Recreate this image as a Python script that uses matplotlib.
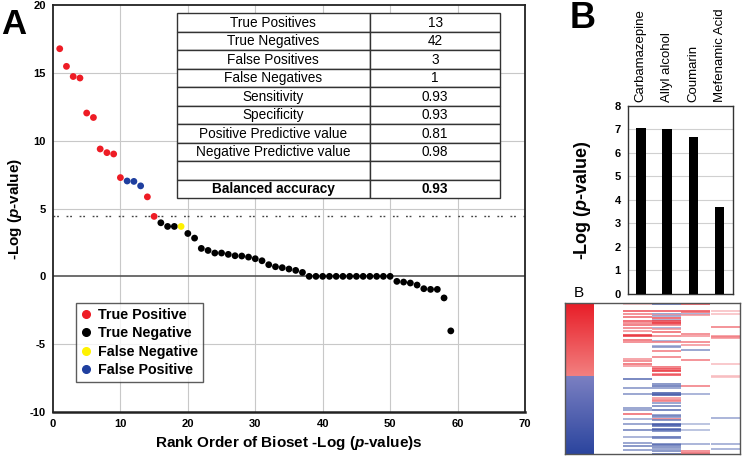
import numpy as np
import matplotlib
matplotlib.use("Agg")
import matplotlib.pyplot as plt
from matplotlib.lines import Line2D

plt.rcParams["font.family"] = ["Liberation Sans", "DejaVu Sans"]
plt.rcParams["mathtext.fontset"] = "custom"
plt.rcParams["mathtext.it"] = "Liberation Sans:bold:italic"
plt.rcParams["mathtext.rm"] = "Liberation Sans:bold"
plt.rcParams["axes.unicode_minus"] = False

# ---- panel A data: ranked bioset -log(p) values and their call ----
scores = [16.78, 15.48, 14.73, 14.62, 12.04, 11.71, 9.39, 9.12, 9.02, 7.28,
          7.03, 7.00, 6.67, 5.86, 4.42, 3.95, 3.68, 3.68, 3.68, 3.16,
          2.82, 2.06, 1.91, 1.72, 1.72, 1.62, 1.52, 1.50, 1.42, 1.30,
          1.15, 0.86, 0.71, 0.64, 0.54, 0.44, 0.29,
          0, 0, 0, 0, 0, 0, 0, 0, 0, 0, 0, 0, 0,
          -0.37, -0.42, -0.49, -0.64, -0.91, -0.96, -0.96, -1.59, -4.02]
calls = (["TP"] * 10 + ["FP"] * 3 + ["TP"] * 2 + ["TN"] * 3 + ["FN"]
         + ["TN"] * 40)
threshold = 4.43

table_rows = ["True Positives", "True Negatives", "False Positives", "False Negatives",
              "Sensitivity", "Specificity", "Positive Predictive value",
              "Negative Predictive value", "", "Balanced accuracy"]
table_vals = ["13", "42", "3", "1", "0.93", "0.93", "0.81", "0.98", "", "0.93"]

# ---- panel B data ----
compounds = ["Carbamazepine", "Allyl alcohol", "Coumarin", "Mefenamic Acid"]
compound_scores = [7.05, 7.0, 6.7, 3.7]

# heatmap: (row, signed intensity) per compound column; + red, - blue
hm_col1 = [(0, 0.3), (7, 0.8), (10, 0.6), (13.5, 0.7), (17, 0.8), (19, 0.6), (21.5, 0.7),
           (24, 0.6), (27.5, 0.5), (31, 0.9), (32, 0.9), (36.5, 0.7), (38.5, 0.6),
           (55, 0.5), (57.5, 0.6), (60, 0.7), (62.5, 0.5), (75, -0.8), (83.5, -0.6),
           (89.5, -0.6), (103.5, -0.6), (106, -0.6), (109.5, 0.7), (114.5, -0.5),
           (120, -0.6), (126, -0.7), (133, -0.5), (139, -0.6), (142, -0.7), (146, -0.6)]
hm_col2 = [(0, -0.8), (7, 0.8), (10, -0.6), (11, 0.5), (12, -0.5), (14, 0.8), (15, 0.6),
           (16, -0.4), (17, 0.9), (18, 0.7), (19, 0.9), (20, 0.8), (21, 0.6), (24, -0.5),
           (25, 0.5), (28, 0.7), (32, 0.6), (37, -0.5), (38.5, 0.6), (42, -0.5),
           (43.5, -0.6), (47, 0.6), (53, 0.6), (63, 0.7), (64, 0.5), (65, 0.8), (66, 0.6),
           (67, 0.9), (70, 0.6), (71.5, 0.8), (80, -0.7), (81.5, -0.8), (84, -0.6),
           (89, -0.9), (90, -0.8), (91, -0.9), (93.5, 0.5), (94.5, 0.4), (95.5, 0.5),
           (96.5, 0.6), (99, -0.6), (101.5, -0.7), (105.5, -0.8), (111, -0.6), (112, -0.7),
           (113, -0.6), (114.5, 0.6), (116, -0.7), (120, -0.9), (121, -0.9), (122, -0.8),
           (125, -0.8), (126, -0.9), (127, -0.7), (133, -0.8), (134, -0.7), (139.5, -0.7),
           (141, -0.8), (142.5, -0.7), (145, -0.6), (147, -0.7), (149, -0.8)]
hm_col3 = [(0, 0.8), (7, 0.8), (8, 0.7), (10, -0.5), (11, 0.5), (30, 0.6), (32, 0.5),
           (38.5, 0.6), (41, 0.5), (46, -0.6), (56, 0.6), (82, 0.6), (89.5, -0.5),
           (120, -0.4), (126, -0.4), (139.5, -0.5), (147, 0.6), (148, 0.7), (149, 0.6)]
hm_col4 = [(7, 0.3), (10, 0.3), (23, 0.6), (32, 0.5), (33, 0.6), (34, 0.5), (60, 0.3),
           (72, 0.3), (73, 0.3), (113.5, -0.5), (139.5, -0.5), (145, -0.5)]
hm_rows = 150
hm_split = 73  # rows above: up-regulated (red), below: down (blue)

COLORS = {"TP": "#ee1c25", "TN": "#000000", "FN": "#fff200", "FP": "#1f3f9f"}
RED = np.array([0.91, 0.11, 0.15])
BLUE = np.array([0.17, 0.27, 0.62])

fig = plt.figure(figsize=(7.44, 4.58), dpi=100)

# ------------------------------------------------------------ Panel A ----
ax = fig.add_axes([0.0712, 0.1004, 0.6344, 0.8886])
ranks = np.arange(1, len(scores) + 1)
ax.scatter(ranks, scores, s=24, c=[COLORS[c] for c in calls], zorder=3, linewidths=0)
ax.set_xlim(0, 70)
ax.set_ylim(-10, 20)
ax.set_xticks(range(0, 71, 10))
ax.set_yticks(range(-10, 21, 5))
for v in range(10, 70, 10):
    ax.axvline(v, color="#c8c8c8", lw=0.8, zorder=0)
for v in (-5, 5, 10, 15):
    ax.axhline(v, color="#c8c8c8", lw=0.8, zorder=0)
ax.axhline(0, color="#555555", lw=1.2, zorder=1)
ax.axhline(threshold, color="#444444", lw=1.0, dashes=(1.3, 1.3, 1.3, 5.5), zorder=1)
ax.tick_params(length=0, labelsize=8, pad=5)
for lab in ax.get_xticklabels() + ax.get_yticklabels():
    lab.set_fontweight("bold")
for s in ax.spines.values():
    s.set_color("#222222")
    s.set_linewidth(1.3)
ax.spines["bottom"].set_linewidth(1.8)
ax.set_xlabel("Rank Order of Bioset -Log ($p$-value)s", fontsize=11, fontweight="bold")
ax.xaxis.set_label_coords(0.5, -0.055)
ax.set_ylabel("-Log ($p$-value)", fontsize=11, fontweight="bold")
ax.yaxis.set_label_coords(-0.062, 0.5)

tbl = ax.table(cellText=[[r, v] for r, v in zip(table_rows, table_vals)],
               cellLoc="center", colWidths=[0.597, 0.403],
               bbox=[0.262, 0.525, 0.686, 0.4545])
tbl.auto_set_font_size(False)
tbl.set_fontsize(9.8)
for (r, c), cell in tbl.get_celld().items():
    cell.set_edgecolor("#333333")
    cell.set_linewidth(1.0)
    cell.set_facecolor("white")
    cell.PAD = 0.02
    if r == len(table_rows) - 1:
        cell.get_text().set_fontweight("bold")
tbl.set_zorder(4)

handles = [Line2D([], [], marker="o", ls="", color=COLORS[k], ms=5.5) for k in ("TP", "TN", "FN", "FP")]
leg = ax.legend(handles, ["True Positive", "True Negative", "False Negative", "False Positive"],
                loc="upper left", bbox_to_anchor=(0.048, 0.268), frameon=True, fancybox=False,
                prop={"weight": "bold", "size": 10.3}, handlelength=0.7, handletextpad=0.5,
                labelspacing=0.3, borderpad=0.35, borderaxespad=0)
leg.get_frame().set_edgecolor("#333333")
leg.get_frame().set_linewidth(1.0)
leg.set_zorder(5)

fig.text(0.002, 0.983, "A", fontsize=25, fontweight="bold", va="top", ha="left")

# ------------------------------------------------------------ Panel B ----
axb = fig.add_axes([0.8437, 0.3581, 0.1411, 0.4105])
xb = np.arange(len(compounds))
axb.bar(xb, compound_scores, width=0.36, color="black", zorder=3)
axb.set_xlim(-0.5, len(compounds) - 0.5)
axb.set_ylim(0, 8)
axb.set_yticks(range(0, 9))
axb.yaxis.grid(True, color="#d0d0d0", lw=0.8, zorder=0)
axb.set_xticks(xb)
axb.set_xticklabels(compounds, rotation=90, fontsize=9.5)
axb.tick_params(axis="x", top=True, labeltop=True, bottom=False, labelbottom=False, length=0, pad=3)
axb.tick_params(axis="y", length=0, labelsize=8, pad=5)
for lab in axb.get_yticklabels():
    lab.set_fontweight("bold")
for s in axb.spines.values():
    s.set_color("#333333")
    s.set_linewidth(1.0)
axb.set_ylabel("-Log ($p$-value)", fontsize=13, fontweight="bold")
axb.yaxis.set_label_coords(-0.33, 0.5)

fig.text(0.766, 0.997, "B", fontsize=26, fontweight="bold", va="top", ha="left")
fig.text(0.771, 0.361, "B", fontsize=11, va="center", ha="left")

# heatmap
axh = fig.add_axes([0.7594, 0.0087, 0.2352, 0.3297])
red_top, red_mid = RED, np.array([0.95, 0.50, 0.50])
blue_mid, blue_bot = np.array([0.48, 0.50, 0.76]), BLUE
t1 = np.linspace(0, 1, hm_split)[:, None]
t2 = np.linspace(0, 1, hm_rows - hm_split)[:, None]
grad = np.vstack([red_top * (1 - t1) + red_mid * t1, blue_mid * (1 - t2) + blue_bot * t2])
axh.imshow(grad[:, None, :], extent=[0, 29, hm_rows, 0], aspect="auto", interpolation="bilinear")
col_x = [(58, 87), (87, 116), (116, 145), (146, 175)]
for (x0, x1), col in zip(col_x, [hm_col1, hm_col2, hm_col3, hm_col4]):
    for row, val in col:
        base = RED if val > 0 else BLUE
        a = abs(val)
        color = 1 - a * (1 - base)
        axh.hlines(row + 0.5, x0, x1, color=color, lw=1.1)
axh.set_xticks([])
axh.set_yticks([])
axh.set_xlim(0, 175)
axh.set_ylim(hm_rows, 0)
for s in axh.spines.values():
    s.set_color("#555555")
    s.set_linewidth(1.0)

fig.savefig("out.png", dpi=100)
